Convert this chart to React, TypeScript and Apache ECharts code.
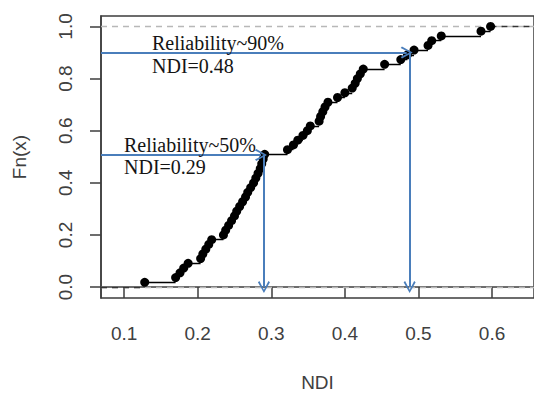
import React, { useEffect, useRef } from "react";
import * as echarts from "echarts";

const ndiValues = [
  0.128,
  0.170, 0.176, 0.181, 0.187,
  0.204, 0.207, 0.211, 0.215, 0.219,
  0.235, 0.238, 0.242, 0.246, 0.250,
  0.253, 0.257, 0.261, 0.265, 0.268, 0.272, 0.276, 0.279, 0.282, 0.285, 0.287, 0.289, 0.291,
  0.322, 0.330, 0.336, 0.343, 0.349, 0.353,
  0.365, 0.367, 0.370, 0.373, 0.377,
  0.390, 0.400, 0.410, 0.414, 0.417, 0.421, 0.425,
  0.454, 0.476, 0.485, 0.494, 0.513, 0.518, 0.531, 0.585, 0.598,
];
const xTicks = [0.1, 0.2, 0.3, 0.4, 0.5, 0.6];
const yTicks = [0, 0.2, 0.4, 0.6, 0.8, 1.0];
const xRange = [0.0686, 0.657];
const yRange = [-0.042, 1.04];
const refLevels = [0, 1];
const annotationLabels = ["Reliability~50%", "Reliability~90%"];
const annotationNdiTexts = ["NDI=0.29", "NDI=0.48"];
const annotationLevels = [0.507, 0.9];
const annotationNdi = [0.29, 0.488];

const BLUE = "#4a7ebb";
const AXIS = "#3c3c3c";
const CHEVRON = "path://M0,10 L6.5,0 L13,10 L11.4,11.2 L6.5,3 L1.6,11.2 Z";

export default function App() {
  const ref = useRef<HTMLDivElement>(null);
  useEffect(() => {
    if (!ref.current) return;
    document.body.style.margin = "0";
    const chart = echarts.init(ref.current, undefined, { renderer: "svg" });
    const n = ndiValues.length;
    const pts = ndiValues.map((x, i) => [x, (i + 1) / n]);
    const steps = [];
    for (let i = 0; i < n - 1; i++) {
      steps.push({ coords: [[ndiValues[i], (i + 1) / n], [ndiValues[i + 1], (i + 1) / n]] });
    }
    const ext = [
      { coords: [[xRange[0], 0], [ndiValues[0], 0]] },
      { coords: [[ndiValues[n - 1], 1], [xRange[1], 1]] },
    ];
    const refLines = refLevels.map((l) => ({ coords: [[xRange[0], l], [xRange[1], l]] }));
    const hArrows = annotationLevels.map((l, i) => ({
      coords: [[xRange[0], l], [annotationNdi[i] - 0.004, l]],
    }));
    const vArrows = annotationLevels.map((l, i) => ({
      coords: [[annotationNdi[i], l], [annotationNdi[i], 0]],
    }));
    const textStyleBase = {
      fontFamily: "Liberation Serif",
      fontSize: 20,
      fill: "#141414",
    };
    const textPos = [
      { x: 124, y1: 145, y2: 167 },
      { x: 152, y1: 43, y2: 66 },
    ];
    const graphics: any[] = [];
    annotationLabels.forEach((t, i) => {
      graphics.push({
        type: "text",
        x: textPos[i].x,
        y: textPos[i].y1,
        z: 100,
        style: { ...textStyleBase, text: t, verticalAlign: "middle", align: "left" },
      });
      graphics.push({
        type: "text",
        x: textPos[i].x,
        y: textPos[i].y2,
        z: 100,
        style: { ...textStyleBase, text: annotationNdiTexts[i], verticalAlign: "middle", align: "left" },
      });
    });

    chart.setOption({
      animation: false,
      backgroundColor: "#ffffff",
      grid: {
        left: 101,
        top: 16,
        width: 436,
        height: 287,
        show: true,
        borderColor: AXIS,
        borderWidth: 1.5,
        backgroundColor: "transparent",
      },
      xAxis: {
        type: "value",
        min: xRange[0],
        max: xRange[1],
        name: "NDI",
        nameLocation: "middle",
        nameGap: 75,
        nameTextStyle: { fontFamily: "Liberation Sans", fontSize: 19, color: "#404040" },
        axisLine: { show: true, lineStyle: { color: AXIS, width: 1.5 } },
        axisTick: { show: true, length: 11, customValues: xTicks, lineStyle: { color: AXIS, width: 1.5 } },
        axisLabel: {
          customValues: xTicks,
          margin: 26,
          fontFamily: "Liberation Sans",
          fontSize: 19,
          color: "#404040",
          formatter: (v: number) => v.toFixed(1),
        },
        splitLine: { show: false },
      },
      yAxis: {
        type: "value",
        min: yRange[0],
        max: yRange[1],
        name: "Fn(x)",
        nameLocation: "middle",
        nameGap: 72,
        nameTextStyle: { fontFamily: "Liberation Sans", fontSize: 19, color: "#404040" },
        axisLine: { show: true, lineStyle: { color: AXIS, width: 1.5 } },
        axisTick: { show: true, length: 11, customValues: yTicks, lineStyle: { color: AXIS, width: 1.5 } },
        axisLabel: {
          customValues: yTicks,
          rotate: 90,
          margin: 26,
          fontFamily: "Liberation Sans",
          fontSize: 19,
          color: "#404040",
          formatter: (v: number) => v.toFixed(1),
        },
        splitLine: { show: false },
      },
      series: [
        {
          type: "lines",
          coordinateSystem: "cartesian2d",
          data: refLines,
          symbol: "none",
          lineStyle: { color: "#b8b8b8", width: 1.3, type: [6, 5], opacity: 1 },
          z: 1,
        },
        {
          type: "lines",
          coordinateSystem: "cartesian2d",
          data: ext,
          symbol: "none",
          lineStyle: { color: "#333333", width: 1.3, type: [6, 5], opacity: 1 },
          z: 2,
        },
        {
          type: "lines",
          coordinateSystem: "cartesian2d",
          data: steps,
          symbol: "none",
          lineStyle: { color: "#000000", width: 1.3, opacity: 1 },
          z: 3,
        },
        {
          type: "scatter",
          data: pts,
          symbol: "circle",
          symbolSize: 9,
          itemStyle: { color: "#000000", opacity: 1 },
          z: 4,
        },
        {
          type: "lines",
          coordinateSystem: "cartesian2d",
          data: hArrows,
          symbol: ["none", CHEVRON],
          symbolSize: [14, 12],
          lineStyle: { color: BLUE, width: 2, opacity: 1 },
          z: 5,
        },
        {
          type: "lines",
          coordinateSystem: "cartesian2d",
          data: vArrows,
          symbol: ["none", CHEVRON],
          symbolSize: [14, 12],
          lineStyle: { color: BLUE, width: 2, opacity: 1 },
          z: 5,
        },
      ],
      graphic: graphics,
    });
    return () => chart.dispose();
  }, []);
  return <div ref={ref} style={{ width: 534, height: 397 }} />;
}
